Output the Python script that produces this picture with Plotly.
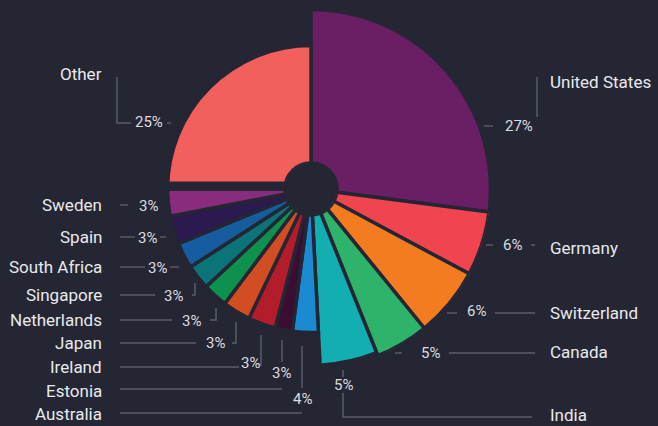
import plotly.graph_objects as go

# ---------------- data ----------------
countries = ["United States", "Germany", "Switzerland", "Canada", "India", "Australia",
             "Estonia", "Ireland", "Japan", "Netherlands", "Singapore", "South Africa",
             "Spain", "Sweden", "Other"]
# slice sizes (share of the circle, %)
shares = [27.05, 5.8, 6.3, 4.8, 5.25, 2.9, 1.95, 3.1, 3.15, 2.8, 2.8, 2.9, 3.2, 3.05, 25.0]
# printed percentage labels
pct_labels = [27, 6, 6, 5, 5, 4, 3, 3, 3, 3, 3, 3, 3, 3, 25]
# relative slice radius
radius = [100, 100, 100, 100, 98, 76.5, 76.5, 76.5, 76.5, 76.5, 76.5, 76.5, 76.5, 76.5, 76.5]

colors = ["#6a1e63", "#f0444e", "#f47c20", "#2db36a", "#13aeb2", "#1a8bd1",
          "#3a0d32", "#b31c2a", "#d24e22", "#0d914e", "#0a7478", "#155d9e",
          "#2a1a50", "#8a2c7e", "#f2605e"]

# ---------------- layout constants ----------------
W, H = 658, 426
BG = "#252634"
LINE = "#5b5e6b"
TXT = "#e9e9ec"
CX, CY, R, HOLE = 311, 189, 179.5, 26

def X(px):
    return px / W

def Y(py):
    return 1 - py / H

# label positions (pixels)
name_pos = {
    "United States": (548, 82, "left"), "Germany": (548, 248, "left"),
    "Switzerland": (548, 313, "left"), "Canada": (548, 352, "left"),
    "India": (548, 415, "left"), "Other": (104, 74, "right"),
    "Sweden": (104, 205, "right"), "Spain": (104, 237, "right"),
    "South Africa": (104, 267, "right"), "Singapore": (104, 295, "right"),
    "Netherlands": (104, 320, "right"), "Japan": (104, 343, "right"),
    "Ireland": (104, 367, "right"), "Estonia": (104, 391, "right"),
    "Australia": (104, 414, "right"),
}
pct_pos = {
    "United States": (519, 126), "Germany": (512, 245), "Switzerland": (476, 311),
    "Canada": (430, 353), "India": (343, 385), "Other": (149, 122),
    "Sweden": (148, 206), "Spain": (147, 238), "South Africa": (157, 268),
    "Singapore": (173, 296), "Netherlands": (191, 321), "Japan": (215, 343),
    "Ireland": (250, 363), "Estonia": (281, 373), "Australia": (302, 399),
}
leaders = [
    [(117, 77), (117, 123), (131, 123)], [(167, 123), (171, 123)],
    [(484, 126), (493, 126)], [(537, 77), (537, 117)],
    [(486, 245), (493, 245)], [(531, 245), (535, 245)],
    [(447, 313), (457, 313)], [(495, 313), (535, 313)],
    [(395, 353), (402, 353)], [(449, 353), (535, 353)],
    [(343, 370), (343, 377)], [(343, 393), (343, 417), (532, 417)],
    [(120, 205), (128, 205)],
    [(120, 237), (135, 237)], [(160, 237), (166, 237)],
    [(120, 267), (145, 267)], [(170, 267), (179, 267)],
    [(120, 295), (155, 295)], [(192, 295), (195, 295), (195, 283)],
    [(120, 320), (172, 320)], [(210, 320), (216, 320), (216, 308)],
    [(120, 343), (196, 343)], [(232, 343), (236, 343), (236, 322)],
    [(120, 367), (239, 367)], [(258, 365), (261, 365), (261, 335)],
    [(282, 340), (282, 362)], [(120, 389), (282, 389)],
    [(302, 346), (302, 388)], [(120, 413), (302, 413)],
]

# ---------------- slices ----------------
total = sum(shares)
widths = [s / total * 360 for s in shares]
mids, acc = [], 0.0
for w in widths:
    mids.append(acc + w / 2)
    acc += w

fig = go.Figure(go.Barpolar(
    r=radius, theta=mids, width=widths,
    marker=dict(color=colors, line=dict(color=BG, width=3.5)),
    text=countries, hoverinfo="text", showlegend=False,
))

fig.update_layout(
    width=W, height=H, paper_bgcolor=BG, plot_bgcolor=BG,
    margin=dict(l=0, r=0, t=0, b=0),
    polar=dict(
        domain=dict(x=[X(CX - R), X(CX + R)], y=[Y(CY + R), Y(CY - R)]),
        bgcolor=BG, hole=HOLE / R,
        radialaxis=dict(visible=False, range=[0, 100], showgrid=False),
        angularaxis=dict(visible=False, rotation=90, direction="clockwise", showgrid=False),
    ),
    font=dict(family="Roboto", color=TXT),
)

shapes = []
for pts in leaders:
    path = "M " + " L ".join(f"{X(a)},{Y(b)}" for a, b in pts)
    shapes.append(dict(type="path", xref="paper", yref="paper", path=path,
                       line=dict(color=LINE, width=1.4)))
# wider gap between "Other" and "Sweden"
r_small = HOLE + (R - HOLE) * radius[-1] / 100
shapes.append(dict(type="line", xref="paper", yref="paper",
                   x0=X(CX - r_small - 3), x1=X(CX), y0=Y(CY - 3.5), y1=Y(CY - 3.5),
                   line=dict(color=BG, width=8)))
fig.update_layout(shapes=shapes)

ann = []
for c, p in zip(countries, pct_labels):
    nx, ny, side = name_pos[c]
    ann.append(dict(x=X(nx), y=Y(ny), xref="paper", yref="paper", text=c,
                    showarrow=False, xanchor=side, yanchor="middle",
                    font=dict(size=17, color=TXT, family="Roboto")))
    px_, py_ = pct_pos[c]
    ann.append(dict(x=X(px_), y=Y(py_), xref="paper", yref="paper", text=f"{p}%",
                    showarrow=False, xanchor="center", yanchor="middle",
                    font=dict(size=15, color="#dcdce0", family="Roboto")))
fig.update_layout(annotations=ann)

fig.write_html("out.html", config={"displayModeBar": False},
               post_script="document.body.style.margin='0';document.body.style.overflow='hidden';")
